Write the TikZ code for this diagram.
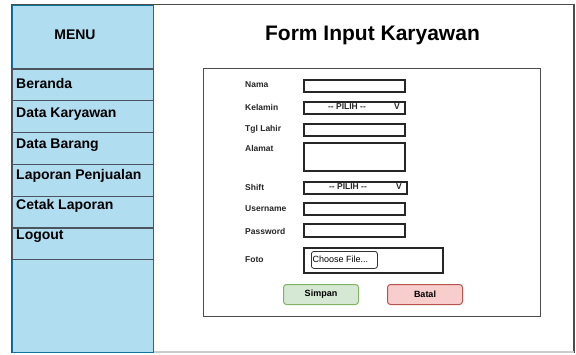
\documentclass[tikz,border=0pt]{standalone}
\usepackage{fontspec}
\setmainfont{Liberation Sans}
\usepackage{tikz}
\usetikzlibrary{positioning, calc}
\definecolor{menu fill}{RGB}{177,221,240}
\definecolor{menu line}{RGB}{16,115,158}
\definecolor{item line}{RGB}{75,85,95}
\definecolor{ok fill}{RGB}{213,232,212}
\definecolor{ok line}{RGB}{130,179,102}
\definecolor{cancel fill}{RGB}{248,206,204}
\definecolor{cancel line}{RGB}{184,84,80}
\tikzset{menubox/.style={draw=menu line, fill=menu fill, line width=1pt, anchor=north west, inner sep=0pt}}
\tikzset{menuitem/.style={draw=item line, fill=menu fill, line width=1.3pt, anchor=north west, inner sep=0pt, minimum width=141pt, minimum height=31.8pt}}
\tikzset{menutext/.style={anchor=west, inner sep=0pt, font=\fontsize{14}{16}\selectfont\bfseries}}
\tikzset{field/.style={draw=black!85, line width=1.5pt, anchor=north west, inner sep=0pt}}
\tikzset{fieldlabel/.style={anchor=west, inner sep=0pt, font=\fontsize{8.5}{10}\selectfont\bfseries, text=black!85}}
\tikzset{button/.style={rounded corners=3pt, line width=1pt, anchor=north west, inner sep=0pt, minimum width=75pt, minimum height=20pt, font=\fontsize{9}{11}\selectfont\bfseries}}

\begin{document}
\begin{tikzpicture}[x=1pt, y=-1pt]
    \useasboundingbox (0,0) rectangle (576,354);
    % page frame
    \draw[black!70, line width=1.2pt] (12,4.5) rectangle (574,352);
    \draw[black!20, line width=1.2pt] (153,352) -- (574,352);
    % side menu
    \node[menubox, minimum width=141pt, minimum height=347.5pt] (menu) at (12,4.5) {};
    \node[menubox, minimum width=141pt, minimum height=63.8pt] (menuhead) at (12,4.5) {};
    \node[font=\fontsize{14}{16}\selectfont\bfseries] (menutitle) at (75,35) {MENU};
    \node[menuitem] (beranda) at (12,68.3) {};
    \node[menuitem] (datakaryawan) at (12,100.1) {};
    \node[menuitem] (databarang) at (12,131.9) {};
    \node[menuitem] (laporanpenjualan) at (12,163.7) {};
    \node[menuitem] (cetaklaporan) at (12,195.5) {};
    \node[menuitem] (logout) at (12,227.3) {};
    \node[menutext] (tberanda) at (16,83) {Beranda};
    \node[menutext] (tdatakaryawan) at (16,114) {Data Karyawan};
    \node[menutext] (tdatabarang) at (16,145) {Data Barang};
    \node[menutext] (tlaporanpenjualan) at (16,175.5) {Laporan Penjualan};
    \node[menutext] (tcetaklaporan) at (16,206) {Cetak Laporan};
    \node[menutext] (tlogout) at (16,236.5) {Logout};
    % title
    \node[font=\fontsize{21}{24}\selectfont\bfseries] (title) at (372.5,35) {Form Input Karyawan};
    % form
    \node[draw=black!70, line width=0.9pt, anchor=north west, inner sep=0pt, minimum width=337pt, minimum height=248pt] (form) at (203,68) {};
    \node[fieldlabel] (lnama) at (245,85) {Nama};
    \node[fieldlabel] (lkelamin) at (245,107) {Kelamin};
    \node[fieldlabel] (ltgllahir) at (245,129) {Tgl Lahir};
    \node[fieldlabel] (lalamat) at (245,148) {Alamat};
    \node[fieldlabel] (lshift) at (245,187) {Shift};
    \node[fieldlabel] (lusername) at (245,209) {Username};
    \node[fieldlabel] (lpassword) at (245,231) {Password};
    \node[fieldlabel] (lfoto) at (245,260) {Foto};
    \node[field, minimum width=101pt, minimum height=12pt] (nama) at (303,79) {};
    \node[field, minimum width=101pt, minimum height=12pt] (kelamin) at (303,101) {};
    \node[fieldlabel, anchor=center] (pilihkelamin) at (347,107) {-{}- PILIH -{}-};
    \node[fieldlabel, anchor=center] (vkelamin) at (397,107) {V};
    \node[field, minimum width=101pt, minimum height=12pt] (tgllahir) at (303,123) {};
    \node[field, minimum width=101pt, minimum height=28pt] (alamat) at (303,142) {};
    \node[field, minimum width=103pt, minimum height=12pt] (shift) at (303,181) {};
    \node[fieldlabel, anchor=center] (pilihshift) at (348,187) {-{}- PILIH -{}-};
    \node[fieldlabel, anchor=center] (vshift) at (399,187) {V};
    \node[field, minimum width=101pt, minimum height=12pt] (username) at (303,202) {};
    \node[field, minimum width=101pt, minimum height=13pt] (password) at (303,223) {};
    \node[field, minimum width=139pt, minimum height=25pt] (foto) at (303,247) {};
    \node[draw=black!80, line width=0.8pt, rounded corners=2.5pt, anchor=north west, inner sep=0pt, minimum width=66pt, minimum height=17pt] (choosefile) at (311,251) {};
    \node[anchor=west, inner sep=0pt, font=\fontsize{9}{11}\selectfont] (tchoosefile) at (312.5,259.5) {Choose File...};
    \node[button, draw=ok line, fill=ok fill] (simpan) at (283,284) {Simpan};
    \node[button, draw=cancel line, fill=cancel fill] (batal) at (387,284) {Batal};
\end{tikzpicture}
\end{document}
